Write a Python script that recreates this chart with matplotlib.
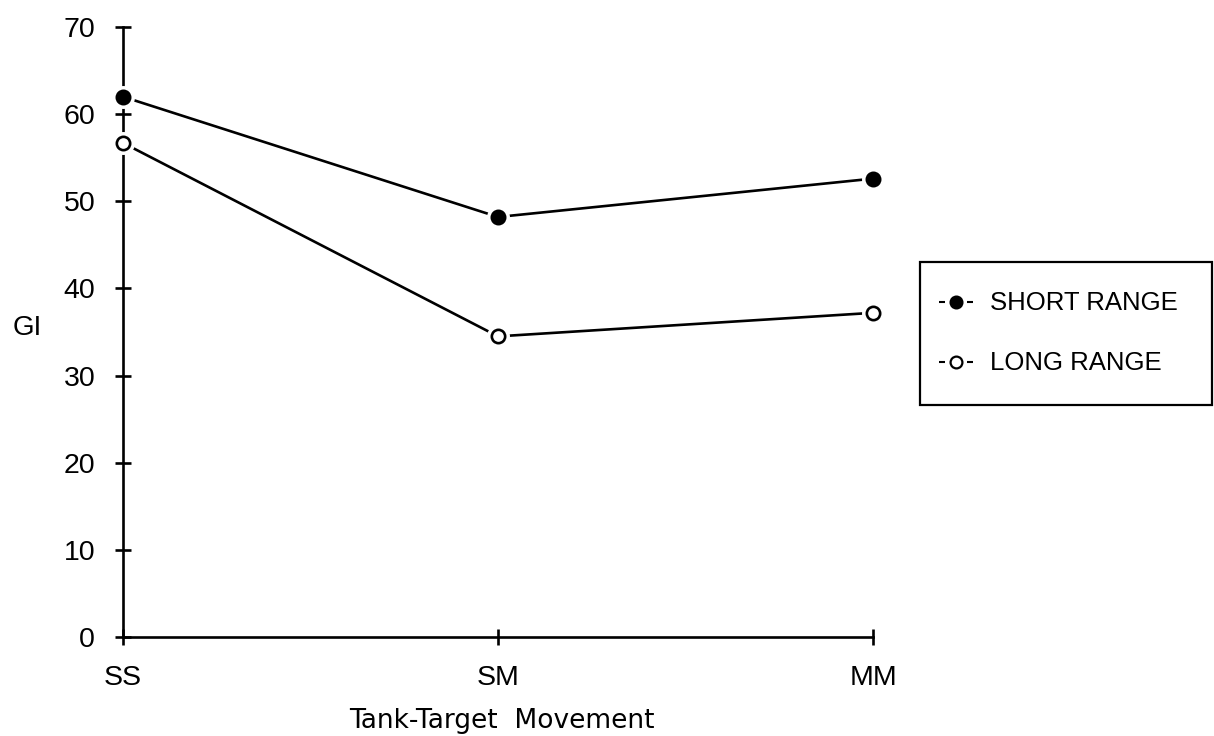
import matplotlib
matplotlib.use('Agg')
import matplotlib.pyplot as plt
from matplotlib.lines import Line2D
from matplotlib.patches import Rectangle

categories = ['SS', 'SM', 'MM']
short_range = [62.0, 48.2, 52.6]
long_range = [56.7, 34.5, 37.2]
yticks = [0, 10, 20, 30, 40, 50, 60, 70]
series_labels = ['SHORT RANGE', 'LONG RANGE']

W, H = 1214, 736
fig = plt.figure(figsize=(W / 100, H / 100), dpi=100)
ax = fig.add_axes([123 / W, 1 - 637 / H, 750 / W, 610 / H])

x = list(range(len(categories)))
faces = ['black', 'white']
for vals, face in zip([short_range, long_range], faces):
    ax.plot(x, vals, color='black', lw=1.9, zorder=3, clip_on=False,
            solid_capstyle='butt')
    ax.plot(x, vals, linestyle='none', marker='o', ms=15.5, mfc='white',
            mec='white', zorder=4, clip_on=False)
    ax.plot(x, vals, linestyle='none', marker='o', ms=9.6, mfc=face,
            mec='black', mew=1.9, zorder=5, clip_on=False)

ax.set_xlim(0, 2)
ax.set_ylim(0, 70)
ax.set_xticks(x)
ax.set_xticklabels(categories)
ax.set_yticks(yticks)
ax.set_yticklabels([str(v) for v in yticks])

for s in ['top', 'right']:
    ax.spines[s].set_visible(False)
for s in ['left', 'bottom']:
    ax.spines[s].set_linewidth(1.9)
    ax.spines[s].set_color('black')

ax.tick_params(axis='both', direction='inout', length=12, width=1.9,
               colors='black', labelsize=20.5)
ax.tick_params(axis='y', pad=14)
ax.tick_params(axis='x', pad=14.5)
for lab in ax.get_xticklabels() + ax.get_yticklabels():
    lab.set_family('Liberation Sans')

ax.set_xlabel('Tank-Target  Movement', family='DejaVu Sans', fontsize=19)
ax.xaxis.set_label_coords(0.505, -0.117)
fig.text(27 / W, 1 - 328 / H, 'GI', family='Liberation Sans', fontsize=20,
         ha='center', va='center')

# legend (drawn in figure pixel coordinates)
def fx(px):
    return px / W

def fy(py):
    return 1 - py / H

fig.add_artist(Rectangle((fx(920), fy(405)), fx(1212) - fx(920),
                         fy(262) - fy(405), transform=fig.transFigure,
                         facecolor='white', edgecolor='black', lw=1.6))
row_y = [302, 362]
for face, label, ry in zip(faces, series_labels, row_y):
    for x0, x1 in [(939, 945), (967, 973)]:
        fig.add_artist(Line2D([fx(x0), fx(x1)], [fy(ry), fy(ry)],
                              transform=fig.transFigure, color='black',
                              lw=1.5, solid_capstyle='butt'))
    fig.add_artist(Line2D([fx(956)], [fy(ry)], transform=fig.transFigure,
                          linestyle='none', marker='o', ms=8.5, mfc=face,
                          mec='black', mew=1.6))
    fig.text(fx(990), fy(ry + 1), label, family='Liberation Sans',
             fontsize=18.5, ha='left', va='center')

fig.savefig('out.png', dpi=100, facecolor='white')
